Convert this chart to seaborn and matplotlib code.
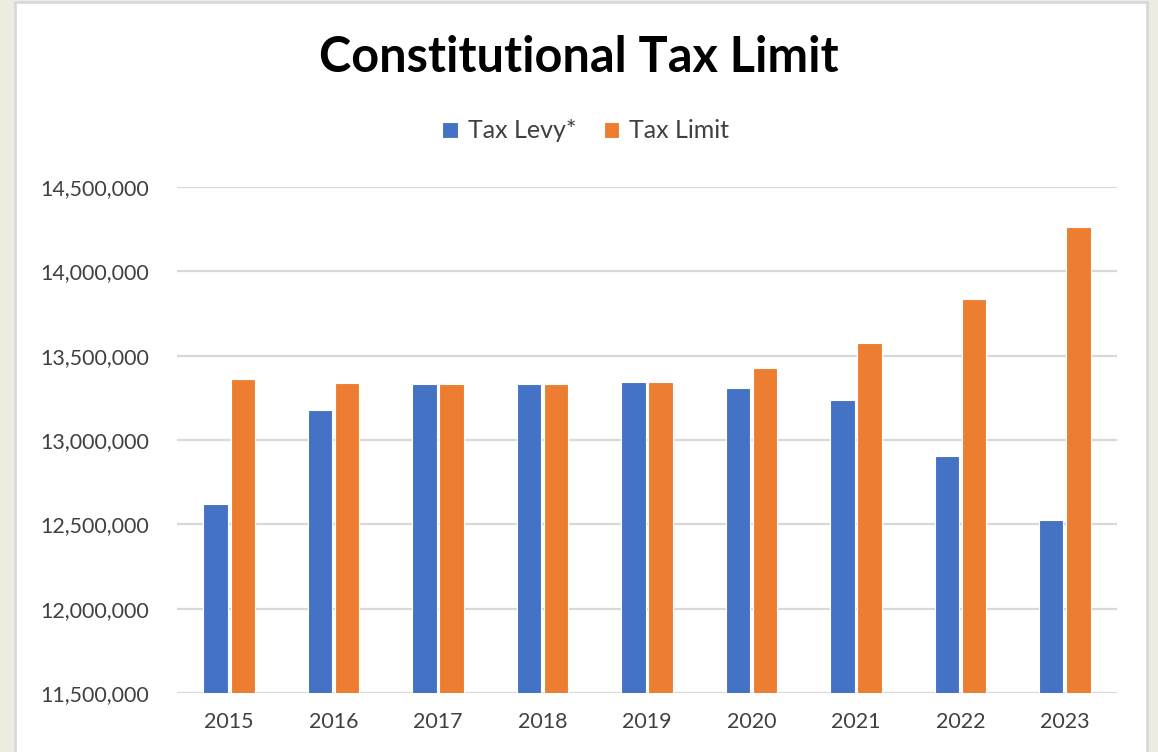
import pandas as pd
import seaborn as sns
import matplotlib.pyplot as plt
from matplotlib.patches import Rectangle
from matplotlib.ticker import FuncFormatter

# data
years = ['2015', '2016', '2017', '2018', '2019', '2020', '2021', '2022', '2023']
tax_levy = [12618000, 13180000, 13332000, 13332000, 13346000, 13310000, 13240000, 12907000, 12528000]
tax_limit = [13362000, 13340000, 13332000, 13332000, 13346000, 13425000, 13573000, 13834000, 14263000]
series = ['Tax Levy*', 'Tax Limit']
colors = ['#4472C4', '#ED7D31']

df = pd.DataFrame({'year': years * 2,
                   'value': tax_levy + tax_limit,
                   'series': [series[0]] * len(years) + [series[1]] * len(years)})

sns.set_style('white')
plt.rcParams['font.family'] = ['Lato', 'DejaVu Sans']

fig = plt.figure(figsize=(11.58, 7.52), dpi=100, facecolor='#EEEBE1')
# white chart panel with thin grey border
fig.patches.append(Rectangle((15 / 1158, -0.01), 1132 / 1158, 1.01 - 2 / 752,
                             transform=fig.transFigure, facecolor='white',
                             edgecolor='#D9D9D9', linewidth=2, zorder=-1))

ax = fig.add_axes([177 / 1158, 1 - 693 / 752, 940 / 1158, 506 / 752])
ax.set_zorder(2)
ax.set_facecolor('none')

sns.barplot(data=df, x='year', y='value', hue='series', palette=colors,
            saturation=1, width=0.52, gap=0.1, edgecolor='white', linewidth=0.8,
            ax=ax, zorder=3)

ax.set_ylim(11500000, 14500000)
ax.set_xlim(-0.5, 8.5)
ax.set_yticks(range(11500000, 14500001, 500000))
ax.yaxis.set_major_formatter(FuncFormatter(lambda v, p: f'{int(v):,}'))
ax.grid(axis='y', color='#D9D9D9', linewidth=1.6, zorder=0)
ax.set_axisbelow(True)
for s in ax.spines.values():
    s.set_visible(False)
ax.tick_params(axis='both', length=0, labelsize=15.4, colors='#404040')
ax.tick_params(axis='y', pad=20)
ax.tick_params(axis='x', pad=14)
ax.set_xlabel('')
ax.set_ylabel('')

handles, labels = ax.get_legend_handles_labels()
ax.get_legend().remove()
leg = fig.legend(handles, labels, loc='center', bbox_to_anchor=(586 / 1158, 1 - 131 / 752),
                 ncol=2, frameon=False, fontsize=18, handlelength=0.62,
                 handleheight=0.62, handletextpad=0.4, columnspacing=1.1)
for t in leg.get_texts():
    t.set_color('#404040')

fig.text(0.5, 1 - 57 / 752, 'Constitutional Tax Limit', ha='center', va='center',
         fontsize=35, fontweight='bold', color='black')

fig.savefig('out.png', dpi=100, facecolor=fig.get_facecolor())
